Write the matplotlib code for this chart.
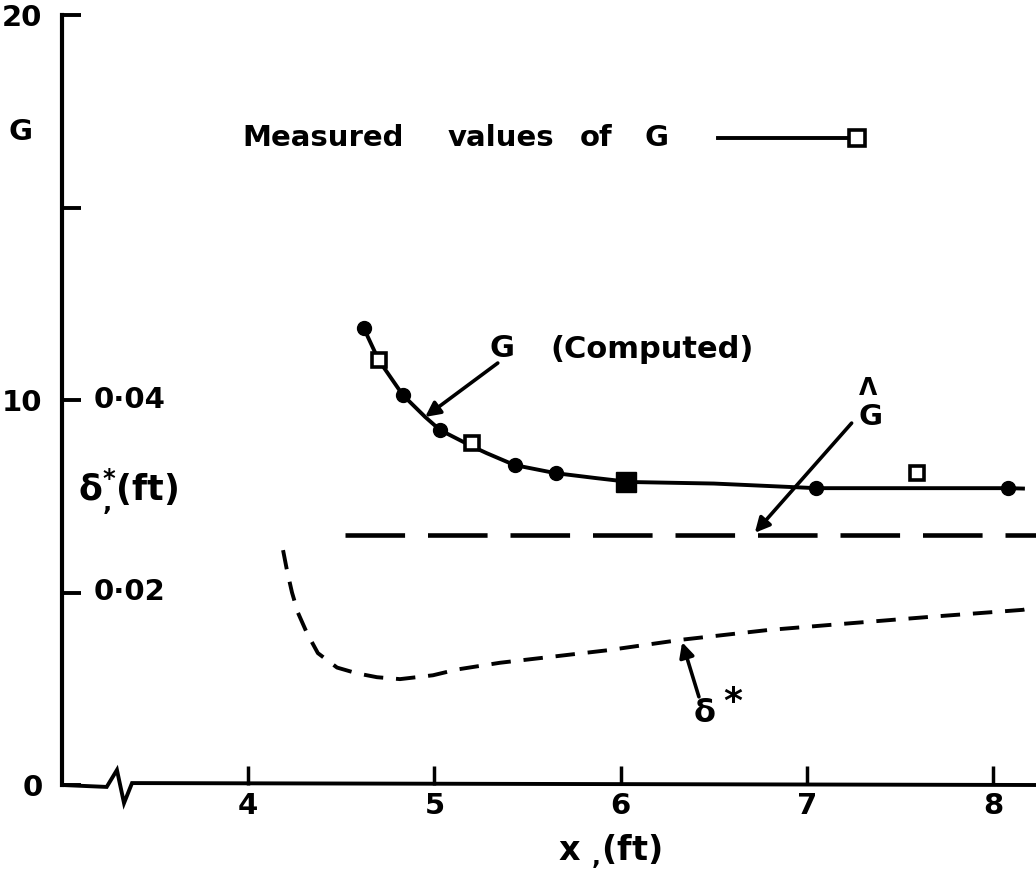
"""Computed and measured G with displacement thickness delta* along x (redrawn from scan)."""
import matplotlib
matplotlib.use("Agg")
import matplotlib.pyplot as plt
import matplotlib.transforms as mtransforms

plt.rcParams["font.family"] = ["DejaVu Sans"]
plt.rcParams["font.weight"] = "bold"
plt.rcParams["mathtext.fontset"] = "dejavusans"

# --- data ---
# computed G: solid curve with filled dots
COMPUTED_X = [4.62, 4.83, 5.03, 5.43, 5.65, 7.05, 8.08]
COMPUTED_G = [11.87, 10.13, 9.22, 8.31, 8.10, 7.71, 7.71]
CURVE_X = [4.62, 4.70, 4.83, 4.95, 5.03, 5.20, 5.28, 5.43, 5.65, 5.87, 6.05,
           6.50, 7.05, 8.08, 8.16]
CURVE_G = [11.87, 11.04, 10.13, 9.56, 9.22, 8.80, 8.62, 8.31, 8.10, 7.97, 7.87,
           7.83, 7.71, 7.71, 7.70]
# measured G: open squares (one coincides with a computed point at x=6)
MEASURED_X = [4.70, 5.20, 7.59]
MEASURED_G = [11.04, 8.88, 8.10]
COINCIDENT_X = [6.03]
COINCIDENT_G = [7.87]
# G-hat (long dashes)
GHAT_X = [4.52, 8.23]
GHAT_G = [6.49, 6.49]
# delta* in ft (short dashes), right-hand scale
DSTAR_X = [4.187, 4.208, 4.235, 4.267, 4.315, 4.374, 4.477, 4.584, 4.691, 4.815,
           4.992, 5.121, 5.352, 5.93, 6.33, 6.79, 7.23, 7.68, 8.16, 8.23]
DSTAR = [0.0244, 0.0223, 0.0200, 0.0179, 0.0158, 0.0137, 0.0122, 0.0116, 0.0112,
         0.0110, 0.0114, 0.0120, 0.0127, 0.0140, 0.0151, 0.0161, 0.0168, 0.0175,
         0.0182, 0.0185]
DSTAR_PER_G = 0.004          # 0.04 ft sits at G = 10

X_TICKS = [4, 5, 6, 7, 8]
G_TICKS = [0, 5, 10, 15, 20]
G_TICK_LABELS = ["0", "", "10", "", "20"]
DSTAR_TICKS = [0.02, 0.04]
DSTAR_TICK_LABELS = ["0·02", "0·04"]

fig = plt.figure(figsize=(10.36, 8.77), dpi=100)
ax = fig.add_axes([62 / 1036, 92 / 877, 974 / 1036, 770 / 877])
ax.set_xlim(3.0, 8.23)
ax.set_ylim(0, 20)

for side in ("top", "right", "bottom"):
    ax.spines[side].set_visible(False)
ax.spines["left"].set_linewidth(3)

# bottom axis drawn by hand so it can carry the break mark
brk_x = [3.0, 3.24, 3.295, 3.333, 3.376, 8.23]
brk_y = [0, -0.05, 0.39, -0.47, 0.05, 0]
ax.plot(brk_x, brk_y, color="black", lw=2.8, clip_on=False, solid_joinstyle="miter")

ax.set_xticks(X_TICKS)
ax.set_xticklabels([str(v) for v in X_TICKS], fontsize=21, fontweight="bold")
ax.set_yticks(G_TICKS)
ax.set_yticklabels(G_TICK_LABELS, fontsize=21, fontweight="bold")
ax.tick_params(axis="x", direction="in", length=14, width=2.5, pad=5)
ax.tick_params(axis="y", direction="in", length=14, width=2.8, pad=14)

# curves
ax.plot(CURVE_X, CURVE_G, color="black", lw=2.8, zorder=3, solid_joinstyle="round")
ax.plot(COMPUTED_X, COMPUTED_G, "o", color="black", ms=10, zorder=4)
ax.plot(MEASURED_X, MEASURED_G, "s", mfc="white", mec="black", mew=2.6, ms=10, zorder=5)
ax.plot(COINCIDENT_X, COINCIDENT_G, "s", color="black", ms=15, zorder=5)
ax.plot(GHAT_X, GHAT_G, color="black", lw=3.3, linestyle=(0, (13, 5)), clip_on=False)
ax.plot(DSTAR_X, [d / DSTAR_PER_G for d in DSTAR], color="black", lw=2.8,
        linestyle=(0, (5, 3.3)), clip_on=False)

# delta* scale labels, just inside the left spine
trans = mtransforms.blended_transform_factory(ax.transAxes, ax.transData)
for v, lab in zip(DSTAR_TICKS, DSTAR_TICK_LABELS):
    ax.text(0.032, v / DSTAR_PER_G, lab, transform=trans, fontsize=21,
            fontweight="bold", ha="left", va="center")
ax.text(0.016, 7.62, r"δ$_{,}^{*}$(ft)", transform=trans, fontsize=25,
        fontweight="bold", ha="left", va="center")

# axis titles
fig.text(20 / 1036, 1 - 132 / 877, "G", fontsize=21, fontweight="bold",
         ha="center", va="center")
ax.text(0.562, -0.087, r"x $_{,}$(ft)", transform=ax.transAxes, fontsize=24,
        fontweight="bold", ha="center", va="center")

# "legend" line
words = [("Measured", 3.97), ("values", 5.07), ("of", 5.78), ("G", 6.13)]
for w, xw in words:
    ax.text(xw, 16.81, w, fontsize=21, fontweight="bold", ha="left", va="center")
ax.plot([6.52, 7.23], [16.81, 16.81], color="black", lw=2.8)
ax.plot([7.27], [16.81], "s", mfc="white", mec="black", mew=2.6, ms=11)

# annotations
arrow = dict(arrowstyle="-|>", color="black", lw=2.6, mutation_scale=22,
             shrinkA=0, shrinkB=0)
ax.text(5.36, 11.35, "G", fontsize=22, fontweight="bold", ha="center", va="center")
ax.text(5.62, 11.30, "(Computed)", fontsize=22, fontweight="bold", ha="left", va="center")
ax.annotate("", xy=(4.95, 9.56), xytext=(5.34, 10.96), arrowprops=arrow)

ax.text(7.34, 9.55, "G", fontsize=21, fontweight="bold", ha="center", va="center")
ax.text(7.33, 10.30, "Λ", fontsize=17, fontweight="bold", ha="center", va="center")
ax.annotate("", xy=(6.72, 6.55), xytext=(7.24, 9.40), arrowprops=arrow)

ax.text(6.45, 1.85, "δ", fontsize=23, fontweight="bold", ha="center", va="center")
ax.text(6.60, 2.15, "*", fontsize=26, fontweight="bold", ha="center", va="center")
ax.annotate("", xy=(6.33, 3.71), xytext=(6.42, 2.29), arrowprops=arrow)

fig.savefig("out.png", dpi=100, facecolor="white")
